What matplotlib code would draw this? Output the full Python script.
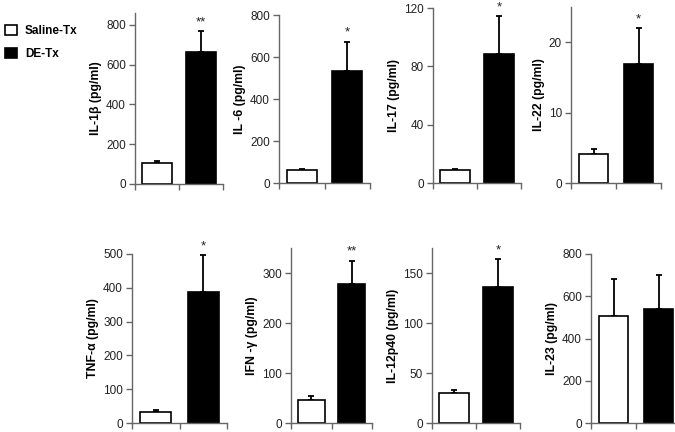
import matplotlib
matplotlib.use("Agg")
import matplotlib.pyplot as plt
from matplotlib.patches import Patch

plt.rcParams['font.family'] = ['Liberation Sans', 'DejaVu Sans']

groups = ['Saline-Tx', 'DE-Tx']
bar_colors = ['white', 'black']

labels = ['IL-1\u03b2 (pg/ml)', 'IL -6 (pg/ml)', 'IL-17 (pg/ml)', 'IL-22 (pg/ml)',
          'TNF-\u03b1 (pg/ml)', 'IFN -\u03b3 (pg/ml)', 'IL-12p40 (pg/ml)', 'IL-23 (pg/ml)']
saline = [105, 62, 8.7, 4.1, 33.5, 47, 29.6, 508]
saline_err = [12, 7, 1.0, 0.7, 4, 8, 3, 175]
de = [666, 535, 88.6, 16.95, 387, 278, 135.6, 541]
de_err = [104, 138, 26, 5.0, 110, 47, 28, 161]
stars = ['**', '*', '*', '*', '*', '**', '*', '']
ymax = [860, 800, 120, 25, 500, 350, 175, 800]
yticks = [
    [0, 200, 400, 600, 800],
    [0, 200, 400, 600, 800],
    [0, 40, 80, 120],
    [0, 10, 20],
    [0, 100, 200, 300, 400, 500],
    [0, 100, 200, 300],
    [0, 50, 100, 150],
    [0, 200, 400, 600, 800],
]

# axes boxes in pixels: left, right, bottom, top
W, H = 675, 432
boxes = [
    (135, 223, 184, 13),
    (279, 370, 183, 15),
    (433, 521, 183, 8),
    (571, 661, 183, 7),
    (132, 227, 423, 254),
    (291, 372, 423, 248),
    (432, 520, 423, 248),
    (591, 681, 423, 254),
]

fig = plt.figure(figsize=(6.75, 4.32), dpi=100)
spine_col = '#666666'

for i in range(8):
    l, r, b, t = boxes[i]
    ax = fig.add_axes([l / W, 1 - b / H, (r - l) / W, (b - t) / H])
    vals = [saline[i], de[i]]
    errs = [saline_err[i], de_err[i]]
    ax.bar([0, 1], vals, width=0.66, color=bar_colors, edgecolor='black',
           linewidth=1.2, zorder=2)
    ax.errorbar([0, 1], vals, yerr=[[0, 0], errs], fmt='none', ecolor='black',
                elinewidth=1.3, capsize=2.2, capthick=1.3, zorder=1)
    if stars[i]:
        ax.annotate(stars[i], (1, de[i] + de_err[i]), xytext=(0, 2),
                    textcoords='offset points', ha='center', va='bottom',
                    fontsize=9.5, color='#222222')
    ax.set_xlim(-0.5, 1.5)
    ax.set_ylim(0, ymax[i])
    ax.set_yticks(yticks[i])
    ax.set_xticks([-0.5, 0.5, 1.5])
    ax.set_xticklabels([])
    for s in ['top', 'right']:
        ax.spines[s].set_visible(False)
    for s in ['left', 'bottom']:
        ax.spines[s].set_color(spine_col)
        ax.spines[s].set_linewidth(1.0)
    ax.tick_params(axis='y', direction='out', length=4, width=1, color=spine_col,
                   labelsize=8.5, labelcolor='#222222', pad=2.5)
    ax.tick_params(axis='x', direction='out', length=4, width=1, color=spine_col)
    ax.set_ylabel(labels[i], fontsize=8.8, fontweight='bold', labelpad=3)
    ax.patch.set_alpha(0)

handles = [Patch(facecolor=c, edgecolor='black', linewidth=1.2) for c in bar_colors]
fig.legend(handles, groups, loc='upper left', bbox_to_anchor=(0, 1 - 20 / H),
           frameon=False, handlelength=1.0, handleheight=0.95,
           handletextpad=0.7, labelspacing=0.95, borderpad=0.4, borderaxespad=0,
           prop={'weight': 'bold', 'size': 8.5})

fig.savefig('out.png', dpi=100)
